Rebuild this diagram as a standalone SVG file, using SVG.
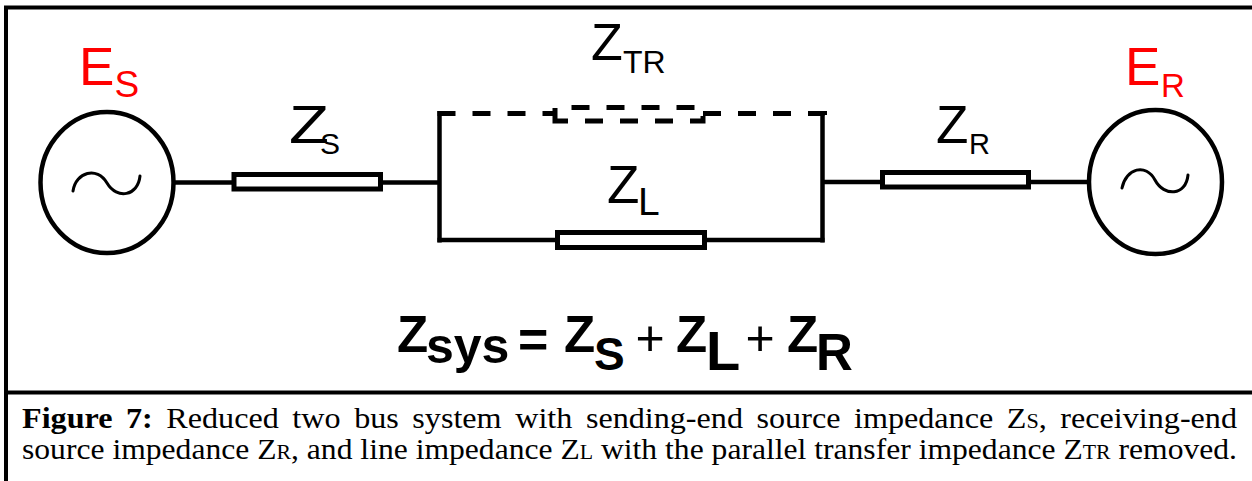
<svg xmlns="http://www.w3.org/2000/svg" width="1252" height="481" viewBox="0 0 1252 481">
<style>
.frame{fill:none;stroke:#000;stroke-width:4}
.wire{fill:none;stroke:#000;stroke-width:4.5}
.res{fill:#fff;stroke:#000;stroke-width:5}
.dash{fill:none;stroke:#000;stroke-width:5;stroke-dasharray:18 17}
.src{fill:#fff;stroke:#000;stroke-width:4.5}
.sine{fill:none;stroke:#000;stroke-width:3;stroke-linecap:round}
.lbl{font-family:"Liberation Sans",Arial,sans-serif;fill:#000}
.red{fill:#ff0000}
.eq{font-family:"Liberation Sans",Arial,sans-serif;font-weight:bold;fill:#000}
.thin{font-weight:normal}
.cap{font-family:"Liberation Serif","Times New Roman",serif;font-size:29px;fill:#000}
.sub{font-size:20px}
</style>
<rect width="1252" height="481" fill="#fff"/>
<g id="frame">
<path class="frame" d="M6,481 V7.5 H1252"/>
<path class="frame" d="M6,392.5 H1252"/>
</g>
<g id="connectors">
<path class="wire" d="M174,182.5 H234"/>
<path class="wire" d="M380,182.5 H439.5"/>
<path class="wire" d="M439.5,111 V242.5"/>
<path class="wire" d="M437.5,240 H557.5"/>
<path class="wire" d="M704.5,240 H824.5"/>
<path class="wire" d="M822.5,111 V242.5"/>
<path class="wire" d="M822.5,182 H882.5"/>
<path class="wire" d="M1028.5,182 H1089"/>
<path class="dash" d="M437.5,113.5 H555 V107.5 H703 V121 H555 V113.5"/>
<path class="dash" d="M703,113.5 H824.5 V116"/>
</g>
<g id="source-es">
<ellipse class="src" cx="107" cy="182.5" rx="66.5" ry="70.5"/>
<path class="sine" d="M73,191 C76,172 97,166 107,183 C117,200 138,196 140,176"/>
<text class="lbl red" x="79" y="85" font-size="53">E<tspan x="114.5" y="97" font-size="37">S</tspan></text>
</g>
<g id="source-er">
<ellipse class="src" cx="1155.5" cy="182" rx="66.5" ry="72"/>
<path class="sine" d="M1122,188 C1126,168 1146,163 1155,180 C1164,197 1186,196 1188,175"/>
<text class="lbl red" x="1125" y="85" font-size="53">E<tspan x="1161" y="97" font-size="33">R</tspan></text>
</g>
<g id="imp-zs">
<rect class="res" x="234" y="174.5" width="146.5" height="14.5"/>
<text class="lbl" x="289" y="143" font-size="53"><tspan textLength="40" lengthAdjust="spacingAndGlyphs">Z</tspan><tspan x="320" y="154" font-size="30">S</tspan></text>
</g>
<g id="imp-zl">
<rect class="res" x="557.5" y="232.5" width="147" height="15"/>
<text class="lbl" x="607" y="203" font-size="53">Z<tspan x="638" y="215" font-size="39">L</tspan></text>
</g>
<g id="imp-ztr">
<text class="lbl" x="591" y="60" font-size="52">Z<tspan x="623" y="73" font-size="32">TR</tspan></text>
</g>
<g id="imp-zr">
<rect class="res" x="882.5" y="172.5" width="146" height="14.5"/>
<text class="lbl" x="936" y="143" font-size="53">Z<tspan x="969" y="154" font-size="29">R</tspan></text>
</g>
<g id="equation">
<text class="eq" x="397" y="352" font-size="51">Z<tspan x="426" y="363" font-size="50">sys</tspan><tspan x="518" y="357" font-size="52">=</tspan><tspan x="564" y="352">Z</tspan><tspan x="594" y="370" font-size="46">S</tspan><tspan class="thin" x="635.5" y="355" font-size="50">+</tspan><tspan x="676" y="352">Z</tspan><tspan x="706" y="370" font-size="56">L</tspan><tspan class="thin" x="745.5" y="355" font-size="50">+</tspan><tspan x="787" y="352">Z</tspan><tspan x="816" y="370">R</tspan></text>
</g>
<g id="caption">
<text class="cap" x="22" y="428" textLength="1215" lengthAdjust="spacingAndGlyphs" word-spacing="5"><tspan font-weight="bold">Figure 7:</tspan> Reduced two bus system with sending-end source impedance Z<tspan class="sub">S</tspan>, receiving-end</text>
<text class="cap" x="22" y="459" textLength="1215" lengthAdjust="spacingAndGlyphs">source impedance Z<tspan class="sub">R</tspan>, and line impedance Z<tspan class="sub">L</tspan> with the parallel transfer impedance Z<tspan class="sub">TR</tspan> removed.</text>
</g>
</svg>
